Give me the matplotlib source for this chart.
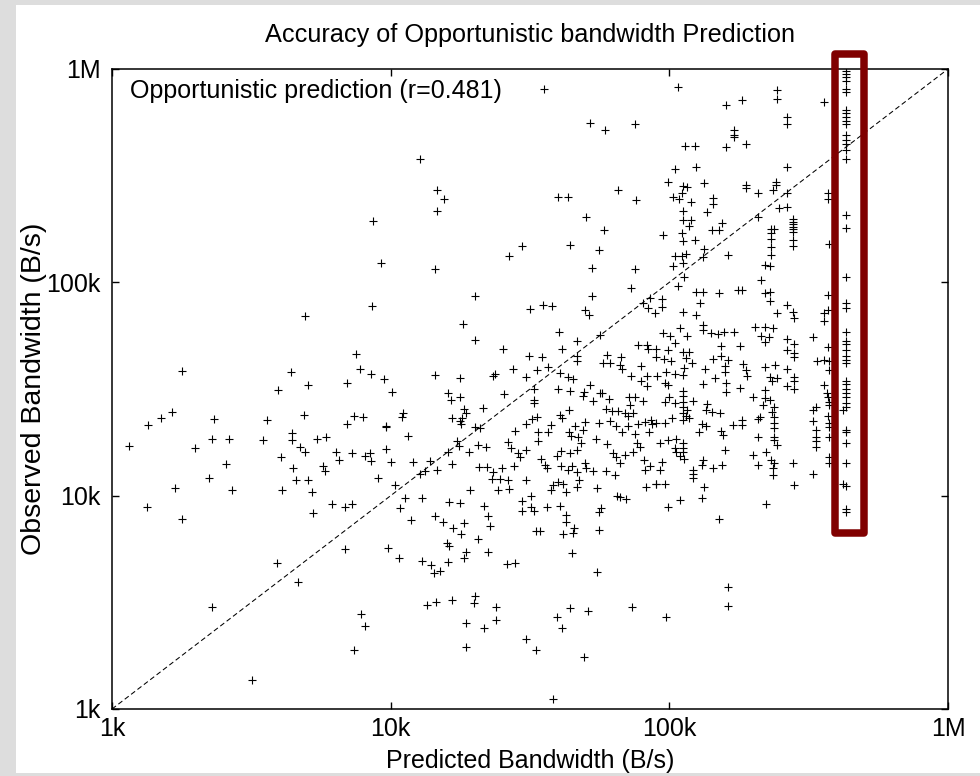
import numpy as np
import matplotlib
matplotlib.use('Agg')
from matplotlib import pyplot as plt
from matplotlib.patches import Rectangle

plt.rcParams['font.family'] = ['Liberation Sans', 'DejaVu Sans']

# predicted vs. observed bandwidth for each transfer, in kB/s
pred_k = [
    51.9, 58.7, 75.2, 12.7, 14.7, 15.5, 14.7, 8.62, 39.9, 43.3,
    65.5, 75.8, 50.2, 58.4, 43.9, 55.9, 29.5, 26.5,
    107, 160, 182, 244, 244, 359,
    430, 430, 430, 430, 430, 430, 430, 430,
    430, 430, 430, 430, 430, 430, 430, 430,
    264, 264, 171, 171, 171, 114, 124, 160, 188, 105,
    125, 264, 99.3, 112, 116, 133, 103, 108, 111, 120,
    144, 144, 188, 188, 208, 236, 242, 242, 265, 248,
    264, 372, 372, 112, 112, 120, 118, 136, 142, 151,
    155, 208, 278, 278, 278, 278, 278, 278,
    231, 231, 231, 231, 231, 237, 278, 278, 95.1, 111,
    112, 124, 133, 105, 111, 115, 132, 163, 375, 430, 430,
    4.93, 1.79, 4.38, 5.06, 3.95, 1.64, 1.50, 1.35, 2.33, 3.59,
    4.89, 1.15, 1.98, 2.29, 2.63, 3.47, 4.43, 4.43, 5.45, 5.86,
    4.04, 4.73, 4.93, 2.56, 4.47, 5.73, 5.81, 2.22, 4.57, 5.06,
    1.68, 2.69, 4.08, 5.23, 1.33,
    9.22, 14.4, 52.6, 75.2, 72.8, 8.59, 20.1, 53.0, 31.6, 35.1,
    37.8, 49.8, 51.6, 80.6, 85.2, 84.0, 88.5, 18.2, 40.3, 46.5,
    20.1, 56.4, 25.3, 41.1, 7.50, 31.3, 34.9, 46.5, 46.5, 36.8,
    7.73, 8.48, 9.46, 6.95, 10.1, 14.4, 17.7, 23.7, 23.3, 27.4,
    30.5, 33.5, 40.5, 43.3, 45.0, 59.9, 57.9, 61.2, 66.9, 66.5,
    67.6, 79.0, 77.5, 83.4, 84.0, 89.2, 89.2, 72.6, 79.0, 83.4,
    83.4, 90.1, 51.9, 49.4, 48.9, 53.2, 56.4, 57.1, 40.0, 43.9,
    32.7, 32.7, 32.7, 25.6, 16.0, 16.4, 17.8, 60.8, 71.6, 75.2,
    80.6, 72.2, 59.4, 62.5, 65.5, 69.2, 74.1, 71.2, 43.7, 40.5,
    41.1, 33.5, 32.2, 30.5, 28.0, 21.4, 18.4, 18.6, 18.1, 17.8,
    17.9, 16.6, 20.1, 21.0, 11.1, 11.0, 9.61, 9.61, 11.5, 7.40,
    7.93, 6.98, 9.66, 6.37, 6.52, 7.26, 8.06, 8.43, 8.51, 10.0,
    9.00, 12.0, 13.8, 13.3, 12.7, 14.7, 16.6, 16.0, 17.6, 17.3,
    19.1, 20.6, 21.9, 26.3, 27.0, 28.6, 29.1, 30.7, 33.7, 33.9,
    36.8, 37.5, 43.7, 44.3, 47.1, 49.2, 49.8, 45.8, 54.5, 59.6,
    62.9, 64.1, 66.5, 69.2, 74.1, 76.5, 78.6, 55.9, 61.2, 64.1,
    67.4, 70.9, 75.2, 77.5, 81.7, 85.9, 86.3, 84.7, 40.8, 39.4,
    43.9, 46.8, 48.1, 34.5, 35.8, 36.3, 40.7, 44.7, 43.3, 46.5,
    49.8, 50.2, 20.7, 22.1, 23.3, 23.1, 25.0, 24.7, 26.3, 27.7,
    30.5, 38.1, 39.9, 41.7, 42.7, 46.8, 47.5, 53.2, 59.2, 63.7,
    37.5, 24.3, 26.5, 19.2, 32.0, 29.6, 55.0, 64.7, 66.5, 69.8,
    82.4, 89.2, 81.3, 85.2, 81.7, 10.4, 11.3, 13.0, 16.2, 17.7,
    21.7, 6.14, 6.85, 7.24, 10.8, 36.5, 40.5, 32.0, 56.7,
    103, 112, 113, 220, 230, 214, 107, 125, 132, 151,
    176, 182, 220, 230, 230, 93.8, 93.8, 129, 112, 125,
    429, 372, 264, 244, 278, 279, 359, 370, 359, 429,
    429, 132, 132, 94.6, 100.5, 109, 116, 141, 150, 157, 170,
    203, 220, 236, 214, 228, 220, 329, 264, 279, 264, 279, 279,
    429, 429, 429, 429, 429, 429, 429,
    372, 374, 374, 340, 99.2, 105, 95.6, 101, 112, 118, 115, 121, 113,
    153, 153, 144, 162, 159, 179, 184, 188, 190, 134, 220, 240,
    97.0, 105, 112, 96.3, 99.2, 146, 158, 160, 160, 132,
    179, 230, 233, 244, 264, 279, 279, 264, 279, 359, 367, 372, 374, 374,
    429, 429, 429, 429, 429, 429, 429, 429, 429, 429, 429,
    421, 421, 432, 429,
    112, 112, 112, 112, 112, 112,
    116, 115, 118, 96.3, 100, 105, 122, 89.2, 96.3, 102,
    137, 135, 142, 152, 131, 135, 128, 169, 182, 182, 153, 156,
    199, 220, 220, 217, 230, 237, 234, 212, 208,
    238, 238, 238, 238, 238,
    244, 329, 337, 329,
    337, 337, 337, 337,
    372,
    374, 374, 374, 374, 374,
    208, 92.5, 99.2, 106, 105, 106,
    112, 112, 112,
    109, 113,
    122, 122, 122,
    131, 132, 143, 155, 93.8, 92.5, 158, 199, 208, 223, 231, 237, 236, 236, 278, 329,
    89.2, 96.3, 133, 109, 131, 280, 223, 99.2, 359,
    1.79, 5.25, 3.92, 4.64, 2.28, 3.17,
    6.87, 9.78, 10.7, 11.8, 14.4, 15.4, 16.8, 17.9, 18.4, 15.9,
    16.2, 20.5, 22.4, 22.7, 13.0, 13.9, 14.3, 15.0, 16.0, 18.6,
    18.3, 22.3, 26.2, 28.0, 29.7, 32.7, 33.3, 34.3, 41.7, 42.5,
    42.7, 45.5, 45.2, 44.9, 55.9, 55.9, 55.0, 7.81, 8.08, 7.38,
    13.5, 14.5, 16.6, 20.1, 19.9, 23.9, 23.9, 18.6, 21.6, 18.7,
    30.5, 33.1, 39.4, 41.1, 43.9, 51.1, 49.4, 73.2, 38.1,
    151, 163, 163, 97.5, 429,
]
obs_k = [
    556, 518, 551, 380, 271, 246, 216, 194, 252, 252,
    271, 242, 202, 175, 150, 142, 148, 133,
    820, 677, 716, 797, 723, 698,
    982, 948, 915, 882, 803, 783, 642, 624,
    598, 573, 551, 491, 465, 446, 417, 377,
    594, 553, 518, 491, 479, 437, 437, 433, 446, 339,
    346, 346, 294, 283, 279, 293, 250, 245, 261, 239,
    248, 233, 285, 276, 261, 271, 296, 285, 263, 224,
    226, 261, 246, 216, 196, 195, 184, 213, 175, 176,
    190, 203, 198, 192, 188, 182, 177, 172,
    177, 170, 159, 147, 134, 177, 158, 148, 166, 170,
    157, 158, 144, 133, 133, 136, 132, 134, 152, 207, 180,
    69.6, 38.5, 37.9, 33.0, 31.3, 24.6, 23.0, 21.5, 22.8, 22.6,
    23.9, 17.1, 16.7, 18.5, 18.4, 18.2, 19.7, 18.2, 18.5, 18.9,
    15.2, 16.9, 16.1, 14.1, 13.5, 13.8, 13.0, 12.1, 11.9, 11.9,
    10.9, 10.6, 10.6, 10.4, 8.88,
    123, 115, 117, 115, 93.9, 77.5, 86.3, 86.6, 74.8, 78.3,
    77.5, 74.3, 70.3, 80.3, 84.5, 75.6, 71.7, 63.9, 58.8, 53.3,
    53.7, 56.7, 48.9, 48.7, 46.0, 45.3, 44.6, 45.3, 42.9, 40.2,
    39.3, 37.1, 35.3, 33.9, 30.5, 36.8, 35.6, 37.1, 36.4, 39.3,
    35.9, 38.9, 37.7, 35.9, 35.2, 45.5, 41.8, 42.0, 44.9, 41.0,
    39.2, 40.6, 50.9, 50.9, 48.7, 48.5, 44.7, 36.4, 34.6, 36.4,
    32.8, 36.4, 33.0, 30.7, 29.4, 27.9, 30.4, 30.2, 31.5, 31.1,
    31.5, 28.1, 27.1, 30.0, 30.2, 28.1, 28.9, 28.3, 28.9, 29.1,
    27.8, 26.6, 25.4, 24.9, 24.9, 24.4, 24.4, 23.7, 25.2, 23.9,
    23.0, 23.5, 22.8, 21.7, 20.2, 25.8, 25.4, 24.4, 23.0, 22.4,
    21.7, 23.0, 20.9, 20.7, 24.5, 23.3, 21.3, 20.9, 19.1, 23.7,
    23.4, 21.7, 16.6, 16.1, 14.7, 15.9, 15.3, 15.8, 14.6, 14.4,
    12.1, 14.4, 14.6, 13.0, 12.7, 13.2, 14.1, 16.1, 17.1, 18.0,
    16.0, 17.3, 16.9, 17.8, 16.7, 15.9, 15.1, 16.4, 19.9, 18.0,
    19.8, 21.5, 19.9, 19.0, 18.9, 20.3, 22.2, 21.3, 18.4, 17.5,
    15.8, 15.2, 14.2, 15.5, 16.1, 17.7, 16.9, 22.0, 22.4, 21.3,
    19.8, 21.1, 19.4, 21.7, 22.2, 22.6, 21.7, 19.9, 16.2, 15.3,
    15.8, 16.4, 17.6, 14.8, 13.9, 13.5, 13.8, 13.8, 13.2, 12.9,
    14.2, 13.5, 13.6, 13.6, 12.9, 12.0, 13.5, 12.0, 11.9, 13.8,
    11.9, 11.2, 11.6, 11.4, 10.4, 11.0, 11.9, 13.0, 13.1, 12.5,
    10.6, 10.6, 10.8, 10.6, 10.0, 9.48, 10.9, 9.97, 9.84, 9.62,
    11.0, 11.4, 14.7, 13.7, 13.2, 11.2, 9.72, 9.72, 9.35, 9.28,
    8.98, 9.18, 8.82, 9.13, 8.72, 8.88, 8.94, 8.88, 8.72,
    119, 123, 106, 121, 119, 103, 96.2, 90.5, 90.5, 88.7,
    91.8, 91.8, 89.4, 90.5, 82.0, 83.7, 77.0, 79.7, 72.4, 70.3,
    106, 87.2, 78.3, 71.7, 72.4, 67.8, 72.1, 74.3, 66.2, 79.7,
    75.6, 63.2, 59.9, 58.1, 56.3, 61.0, 56.3, 57.8, 57.3, 58.8, 58.3,
    61.6, 62.0, 61.0, 56.3, 55.5, 52.8, 55.5, 54.3, 51.2, 48.1, 46.5, 44.7,
    58.8, 53.3, 51.2, 48.1, 45.3, 43.3, 41.8,
    49.6, 42.6, 38.9, 42.6, 48.1, 51.8, 43.7, 42.6, 47.2, 47.0, 44.0, 41.8, 39.6,
    50.5, 45.3, 43.5, 43.2, 40.7, 50.5, 41.3, 38.9, 36.4, 39.3, 40.2, 41.0,
    38.1, 37.2, 36.8, 33.7, 33.0, 35.7, 37.9, 33.9, 30.5, 33.3,
    31.9, 36.1, 34.5, 35.6, 39.2, 36.1, 34.3, 32.8, 31.5, 33.0, 30.2, 29.1, 27.6, 26.6,
    34.5, 33.4, 31.6, 30.2, 28.9, 27.3, 26.1, 20.3, 19.9, 17.7, 14.2,
    25.2, 11.4, 11.1, 8.63,
    31.1, 29.4, 27.6, 26.1, 24.4, 22.6,
    25.2, 23.7, 23.0, 27.6, 29.1, 27.3, 27.9, 22.0, 22.0, 23.0,
    26.9, 25.2, 24.6, 24.4, 21.7, 21.1, 19.9, 21.5, 22.6, 21.5, 20.0, 19.2,
    29.1, 31.3, 28.7, 26.6, 28.1, 26.1, 24.8, 23.5, 22.9,
    23.5, 22.0, 20.7, 18.9, 18.2,
    17.3, 25.2, 26.0, 22.4,
    20.3, 18.9, 18.1, 17.0,
    23.7,
    22.0, 21.0, 18.9, 15.2, 14.2,
    18.9, 17.7, 18.2, 18.4, 16.7, 16.1,
    17.6, 16.7, 16.1,
    15.3, 14.8,
    13.2, 12.7, 12.1,
    13.9, 14.7, 13.5, 13.9, 14.4, 13.2, 16.4, 15.5, 13.9, 16.1, 14.7, 14.2, 13.5, 12.5, 14.2, 12.7,
    11.4, 11.4, 11.0, 9.55, 9.72, 11.2, 9.18, 8.82, 43.2,
    7.75, 8.26, 4.85, 3.93, 3.00, 1.37,
    5.61, 5.71, 5.12, 7.70, 8.03, 7.55, 7.03, 6.62, 7.47, 5.99,
    5.79, 6.24, 8.03, 7.23, 4.93, 4.75, 4.33, 4.45, 4.89, 5.42,
    5.12, 5.42, 4.78, 4.85, 8.43, 8.43, 6.86, 6.86, 6.62, 8.11,
    7.55, 7.03, 6.67, 5.37, 8.34, 6.92, 4.40, 2.79, 2.45, 1.90,
    3.07, 3.18, 3.25, 3.39, 3.14, 3.01, 2.61, 2.52, 2.41, 1.96,
    2.13, 1.90, 2.71, 2.41, 2.96, 2.89, 1.76, 3.00, 1.12,
    7.78, 3.74, 3.04, 2.71, 8.34,
]
assert len(pred_k) == len(obs_k)

r_value = 0.481
tick_vals = [1e3, 1e4, 1e5, 1e6]
tick_labels = ['1k', '10k', '100k', '1M']
# highlight around the transfers whose prediction sits at the cap (B/s)
box_x = (3.94e5, 5.0e5)
box_y = (6.7e3, 1.18e6)

pred = np.array(pred_k) * 1e3
obs = np.array(obs_k) * 1e3

fig = plt.figure(figsize=(9.8, 7.76), dpi=100, facecolor='#dddddd')
fig.patches.append(Rectangle((16 / 980, 3 / 776), 964 / 980, 768 / 776,
                             transform=fig.transFigure, facecolor='white',
                             edgecolor='none', zorder=-1))
ax = fig.add_axes([112 / 980, 67 / 776, 836 / 980, 640 / 776])

ax.plot(pred, obs, '+', color='black', ms=5.5, mew=0.8, linestyle='none',
        label='Opportunistic prediction (r=%.3f)' % r_value)
ax.plot(tick_vals[::3], tick_vals[::3], color='black', lw=0.75,
        linestyle=(0, (4.8, 2.9)))

ax.set_xscale('log')
ax.set_yscale('log')
ax.set_xlim(tick_vals[0], tick_vals[-1])
ax.set_ylim(tick_vals[0], tick_vals[-1])
ax.set_xticks(tick_vals, tick_labels)
ax.set_yticks(tick_vals, tick_labels)
ax.minorticks_off()
ax.tick_params(direction='in', length=5, width=1.0, top=True, right=True,
               labelsize=18)
ax.tick_params(axis='x', pad=6)
ax.tick_params(axis='y', pad=8)
for sp in ax.spines.values():
    sp.set_linewidth(1.1)

ax.set_title('Accuracy of Opportunistic bandwidth Prediction', fontsize=18.2,
             pad=19.2)
ax.set_xlabel('Predicted Bandwidth (B/s)', fontsize=18)
ax.xaxis.set_label_coords(0.5, -0.062)
ax.set_ylabel('Observed Bandwidth (B/s)', fontsize=20.5)
ax.yaxis.set_label_coords(-0.078, 0.5)

ax.legend(loc='upper left', bbox_to_anchor=(0.0, 1.012), frameon=False,
          markerfirst=False, fontsize=18, handlelength=1.0,
          handletextpad=1.2, borderpad=0.2, borderaxespad=0.5)

ax.add_patch(Rectangle((box_x[0], box_y[0]), box_x[1] - box_x[0],
                       box_y[1] - box_y[0], fill=False, edgecolor='#800000',
                       lw=5.4, joinstyle='round', clip_on=False, zorder=5))

fig.savefig('out.png', dpi=100, facecolor=fig.get_facecolor())
